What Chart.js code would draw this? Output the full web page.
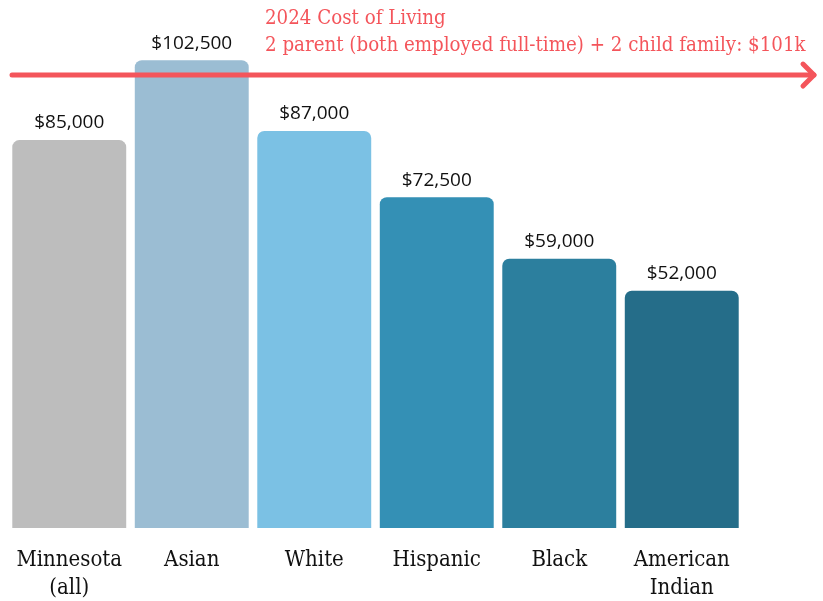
<!DOCTYPE html>
<html>
<head>
<meta charset="utf-8">
<script src="https://cdn.jsdelivr.net/npm/chart.js@4"></script>
<style>
  html, body { margin: 0; padding: 0; background: #fff; }
  #wrap { width: 823px; height: 601px; position: relative; }
</style>
</head>
<body>
<div id="wrap"><canvas id="c"></canvas></div>
<script>
var categories = [["Minnesota", "(all)"], "Asian", "White", "Hispanic", "Black", ["American", "Indian"]];
var incomes = [85000, 102500, 87000, 72500, 59000, 52000];
var barColors = ["#bdbdbd", "#9bbdd3", "#7bc1e4", "#3490b5", "#2c7f9e", "#256d89"];
var costOfLiving = 101000;
var titleLines = ["2024 Cost of Living", "2 parent (both employed full-time) + 2 child family: $101k"];

var slab = "'DejaVu Serif Condensed', 'DejaVu Serif', serif";
var red = "#f4555b";

var fmt = function(v) {
    return "$" + v.toLocaleString("en-US");
}

var overlay = {
    id: "overlay",
    afterDatasetsDraw: function(chart) {
        var ctx = chart.ctx;
        var meta = chart.getDatasetMeta(0);
        ctx.save();
        // value labels
        ctx.font = "19px 'Open Sans'";
        ctx.fillStyle = "#111";
        ctx.textAlign = "center";
        ctx.textBaseline = "middle";
        meta.data.forEach(function(bar, i) {
            ctx.fillText(fmt(incomes[i]), bar.x, bar.y - 17);
        });
        // cost of living arrow (drawn a touch below the exact value, as in the original)
        var y = chart.scales.y.getPixelForValue(costOfLiving) + 8;
        var x0 = 12, x1 = chart.width - 9;
        ctx.strokeStyle = red;
        ctx.lineWidth = 5;
        ctx.lineCap = "round";
        ctx.lineJoin = "round";
        ctx.beginPath();
        ctx.moveTo(x0, y);
        ctx.lineTo(x1, y);
        ctx.stroke();
        ctx.beginPath();
        ctx.moveTo(x1 - 11, y - 11);
        ctx.lineTo(x1, y);
        ctx.lineTo(x1 - 11, y + 11);
        ctx.stroke();
        // red text
        ctx.fillStyle = red;
        ctx.font = "20.3px " + slab;
        ctx.textAlign = "left";
        ctx.textBaseline = "alphabetic";
        ctx.fillText(titleLines[0], 265, 24);
        ctx.fillText(titleLines[1], 265, 51);
        ctx.restore();
    }
};

new Chart(document.getElementById("c"), {
    type: "bar",
    data: {
        labels: categories,
        datasets: [{
            data: incomes,
            backgroundColor: barColors,
            borderRadius: 7,
            borderSkipped: "start",
            barPercentage: 0.93,
            categoryPercentage: 1
        }]
    },
    options: {
        responsive: true,
        maintainAspectRatio: false,
        animation: false,
        layout: { padding: { top: 26, left: 8, right: 80, bottom: 0 } },
        plugins: { legend: { display: false }, tooltip: { enabled: false } },
        scales: {
            x: {
                grid: { display: false },
                border: { display: false },
                ticks: {
                    color: "#111",
                    padding: 11,
                    maxRotation: 0,
                    autoSkip: false,
                    font: { family: slab, size: 22, lineHeight: 1.25 }
                },
                afterFit: function(scale) { scale.height = 73; }
            },
            y: {
                display: false,
                min: 0,
                max: 110000
            }
        }
    },
    plugins: [overlay]
});
</script>
</body>
</html>
